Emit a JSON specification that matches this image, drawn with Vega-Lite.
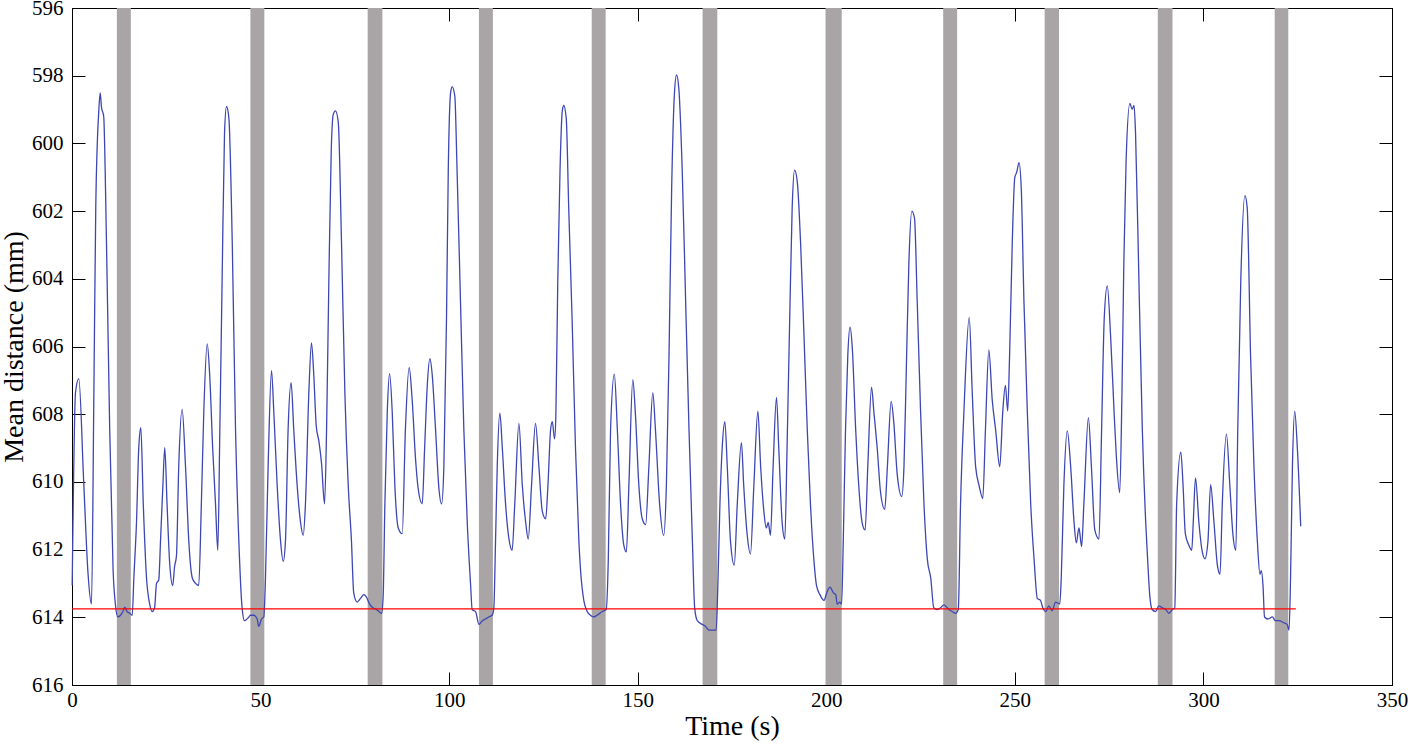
{
  "$schema": "https://vega.github.io/schema/vega-lite/v6.json",
  "width": 1320,
  "height": 677,
  "autosize": {"type": "none"},
  "padding": {"left": 72, "top": 8, "right": 21, "bottom": 59},
  "background": "white",
  "config": {
    "font": "Liberation Serif",
    "view": {"stroke": "black", "strokeWidth": 1},
    "axis": {
      "grid": false,
      "domainColor": "black",
      "tickColor": "black",
      "labelColor": "black",
      "titleColor": "black",
      "labelFont": "Liberation Serif",
      "titleFont": "Liberation Serif",
      "labelFontSize": 21,
      "titleFontSize": 28,
      "titleFontWeight": "normal",
      "labelFlush": false,
      "labelOverlap": false,
      "tickSize": -13,
      "tickWidth": 1
    }
  },
  "datasets": {
    "signal": [
      {"t":0.05,"d":613.06},{"t":0.93,"d":607.36},{"t":1.8,"d":606.95},{"t":3.1,"d":610.0},{"t":4.2,"d":612.62},{"t":5.17,"d":613.61},{"t":5.8,"d":607.36},{"t":6.3,"d":601.89},{"t":7.1,"d":599.04},{"t":7.47,"d":598.51},{"t":7.82,"d":598.93},{"t":8.4,"d":599.2},{"t":9.15,"d":602.98},{"t":10.0,"d":608.46},{"t":10.9,"d":612.62},{"t":11.5,"d":613.61},{"t":12.15,"d":613.99},{"t":12.86,"d":613.94},{"t":13.5,"d":613.83},{"t":14.0,"d":613.7},{"t":14.6,"d":613.83},{"t":15.3,"d":613.88},{"t":15.96,"d":613.94},{"t":16.4,"d":612.84},{"t":17.1,"d":611.2},{"t":17.7,"d":609.0},{"t":18.25,"d":608.4},{"t":18.9,"d":610.65},{"t":19.76,"d":612.84},{"t":20.6,"d":613.61},{"t":21.27,"d":613.83},{"t":21.9,"d":613.72},{"t":22.4,"d":613.0},{"t":23.0,"d":612.9},{"t":23.47,"d":611.75},{"t":24.1,"d":610.1},{"t":24.6,"d":608.99},{"t":25.2,"d":610.65},{"t":25.9,"d":612.4},{"t":26.7,"d":613.06},{"t":27.2,"d":612.5},{"t":27.7,"d":612.18},{"t":28.3,"d":609.55},{"t":29.2,"d":607.86},{"t":30.1,"d":609.55},{"t":30.97,"d":611.75},{"t":31.9,"d":612.84},{"t":32.75,"d":613.0},{"t":33.6,"d":613.06},{"t":34.3,"d":610.65},{"t":34.95,"d":607.91},{"t":35.85,"d":605.92},{"t":36.5,"d":606.82},{"t":37.3,"d":609.0},{"t":38.05,"d":610.65},{"t":38.66,"d":612.02},{"t":39.2,"d":608.46},{"t":39.8,"d":604.08},{"t":40.44,"d":599.7},{"t":40.97,"d":598.91},{"t":41.6,"d":599.26},{"t":42.5,"d":602.98},{"t":43.36,"d":608.46},{"t":44.24,"d":611.75},{"t":45.1,"d":613.72},{"t":45.74,"d":614.1},{"t":46.9,"d":613.99},{"t":47.3,"d":613.94},{"t":48.2,"d":613.94},{"t":49.1,"d":614.05},{"t":49.5,"d":614.27},{"t":50.25,"d":614.05},{"t":50.86,"d":613.99},{"t":51.3,"d":612.84},{"t":52.0,"d":609.55},{"t":52.9,"d":606.71},{"t":53.5,"d":607.91},{"t":54.4,"d":610.1},{"t":55.3,"d":611.75},{"t":56.0,"d":612.35},{"t":56.6,"d":611.75},{"t":57.3,"d":608.46},{"t":58.1,"d":607.07},{"t":58.8,"d":608.46},{"t":59.7,"d":610.1},{"t":60.6,"d":611.2},{"t":61.3,"d":611.58},{"t":61.9,"d":610.65},{"t":62.8,"d":607.36},{"t":63.5,"d":605.89},{"t":64.1,"d":606.82},{"t":64.76,"d":608.35},{"t":65.45,"d":608.79},{"t":66.16,"d":609.45},{"t":66.96,"d":610.65},{"t":67.5,"d":608.46},{"t":68.1,"d":604.08},{"t":68.73,"d":600.25},{"t":69.26,"d":599.15},{"t":69.87,"d":599.04},{"t":70.6,"d":599.37},{"t":71.47,"d":602.98},{"t":72.35,"d":607.36},{"t":73.24,"d":610.1},{"t":74.1,"d":611.75},{"t":74.7,"d":613.28},{"t":75.6,"d":613.55},{"t":76.5,"d":613.44},{"t":77.4,"d":613.33},{"t":78.0,"d":613.39},{"t":78.9,"d":613.61},{"t":79.8,"d":613.72},{"t":80.7,"d":613.77},{"t":81.4,"d":613.83},{"t":82.1,"d":613.88},{"t":82.5,"d":613.39},{"t":82.96,"d":610.65},{"t":83.6,"d":607.91},{"t":84.2,"d":606.8},{"t":84.9,"d":607.91},{"t":85.6,"d":610.1},{"t":86.5,"d":611.36},{"t":87.56,"d":611.53},{"t":88.4,"d":608.46},{"t":89.4,"d":606.62},{"t":90.2,"d":607.58},{"t":91.1,"d":609.34},{"t":91.8,"d":610.21},{"t":92.87,"d":610.65},{"t":93.5,"d":609.0},{"t":94.2,"d":607.15},{"t":94.9,"d":606.36},{"t":95.5,"d":606.82},{"t":96.4,"d":608.46},{"t":97.3,"d":610.21},{"t":98.0,"d":610.65},{"t":98.6,"d":609.55},{"t":99.3,"d":605.17},{"t":99.77,"d":600.79},{"t":100.4,"d":598.49},{"t":100.8,"d":598.33},{"t":101.5,"d":598.6},{"t":102.1,"d":600.79},{"t":103.0,"d":604.63},{"t":103.9,"d":608.46},{"t":104.8,"d":611.2},{"t":105.7,"d":613.06},{"t":106.1,"d":613.77},{"t":107.0,"d":613.83},{"t":107.9,"d":614.21},{"t":108.8,"d":614.1},{"t":109.6,"d":614.05},{"t":110.5,"d":613.99},{"t":111.4,"d":613.94},{"t":111.85,"d":613.72},{"t":112.3,"d":611.75},{"t":112.75,"d":609.55},{"t":113.45,"d":607.97},{"t":114.1,"d":609.0},{"t":114.96,"d":610.65},{"t":115.8,"d":611.64},{"t":116.7,"d":612.02},{"t":117.4,"d":610.65},{"t":118.5,"d":608.27},{"t":119.4,"d":610.1},{"t":120.3,"d":611.2},{"t":120.97,"d":611.69},{"t":121.85,"d":610.1},{"t":122.9,"d":608.27},{"t":123.8,"d":609.55},{"t":124.7,"d":610.87},{"t":125.6,"d":611.09},{"t":126.2,"d":610.1},{"t":126.9,"d":608.46},{"t":127.35,"d":608.22},{"t":127.95,"d":608.73},{"t":128.3,"d":608.02},{"t":128.8,"d":604.08},{"t":129.4,"d":600.79},{"t":130.0,"d":599.04},{"t":130.4,"d":598.88},{"t":131.05,"d":599.26},{"t":131.7,"d":601.89},{"t":132.6,"d":605.17},{"t":133.5,"d":609.0},{"t":134.4,"d":611.75},{"t":135.0,"d":612.84},{"t":135.7,"d":613.5},{"t":136.6,"d":613.83},{"t":137.5,"d":613.94},{"t":138.3,"d":613.99},{"t":139.2,"d":613.94},{"t":140.6,"d":613.83},{"t":141.65,"d":613.77},{"t":142.2,"d":612.29},{"t":142.8,"d":608.46},{"t":143.8,"d":606.82},{"t":144.6,"d":608.46},{"t":145.45,"d":610.65},{"t":146.3,"d":611.86},{"t":147.0,"d":612.07},{"t":147.66,"d":610.1},{"t":148.7,"d":606.98},{"t":149.4,"d":608.02},{"t":150.3,"d":610.1},{"t":151.2,"d":611.09},{"t":152.1,"d":611.26},{"t":152.96,"d":609.55},{"t":154.0,"d":607.36},{"t":154.7,"d":608.46},{"t":155.8,"d":610.65},{"t":156.9,"d":611.58},{"t":157.6,"d":610.1},{"t":158.3,"d":606.27},{"t":159.0,"d":601.34},{"t":159.7,"d":598.6},{"t":160.3,"d":597.98},{"t":160.9,"d":598.38},{"t":161.8,"d":600.79},{"t":162.7,"d":604.63},{"t":163.6,"d":608.46},{"t":164.5,"d":611.75},{"t":165.1,"d":613.72},{"t":165.8,"d":614.1},{"t":167.1,"d":614.21},{"t":168.0,"d":614.27},{"t":168.9,"d":614.38},{"t":169.8,"d":614.38},{"t":170.8,"d":614.38},{"t":171.3,"d":612.84},{"t":171.8,"d":610.65},{"t":172.4,"d":609.0},{"t":173.1,"d":608.22},{"t":173.75,"d":609.55},{"t":174.6,"d":611.75},{"t":175.6,"d":612.46},{"t":176.4,"d":610.65},{"t":177.5,"d":608.84},{"t":178.1,"d":610.1},{"t":179.0,"d":611.53},{"t":179.9,"d":612.13},{"t":180.8,"d":610.1},{"t":181.86,"d":607.91},{"t":182.6,"d":609.55},{"t":183.45,"d":610.87},{"t":184.1,"d":611.36},{"t":184.6,"d":611.2},{"t":185.2,"d":611.58},{"t":185.9,"d":609.55},{"t":186.8,"d":607.5},{"t":187.4,"d":609.0},{"t":188.3,"d":611.2},{"t":189.0,"d":611.69},{"t":189.6,"d":609.0},{"t":190.3,"d":605.17},{"t":190.96,"d":601.89},{"t":191.6,"d":600.79},{"t":192.3,"d":601.12},{"t":193.2,"d":602.98},{"t":194.1,"d":605.72},{"t":194.96,"d":608.46},{"t":195.8,"d":610.65},{"t":196.7,"d":612.29},{"t":197.4,"d":613.06},{"t":198.3,"d":613.33},{"t":199.4,"d":613.5},{"t":200.1,"d":613.28},{"t":201.0,"d":613.11},{"t":201.9,"d":613.28},{"t":202.5,"d":613.33},{"t":202.9,"d":613.61},{"t":203.6,"d":613.55},{"t":204.06,"d":613.61},{"t":204.5,"d":611.75},{"t":205.1,"d":608.46},{"t":205.7,"d":606.27},{"t":206.3,"d":605.43},{"t":206.9,"d":606.05},{"t":207.8,"d":608.46},{"t":208.6,"d":610.1},{"t":209.5,"d":611.2},{"t":210.3,"d":611.42},{"t":211.0,"d":609.55},{"t":212.0,"d":607.2},{"t":212.6,"d":607.91},{"t":213.5,"d":609.0},{"t":214.4,"d":610.32},{"t":215.5,"d":610.81},{"t":216.2,"d":609.55},{"t":217.2,"d":607.62},{"t":217.9,"d":608.24},{"t":218.8,"d":609.77},{"t":220.0,"d":610.43},{"t":220.6,"d":609.55},{"t":221.3,"d":606.27},{"t":221.9,"d":603.53},{"t":222.7,"d":602.0},{"t":223.4,"d":602.22},{"t":224.1,"d":604.63},{"t":225.0,"d":607.91},{"t":225.9,"d":610.65},{"t":226.8,"d":612.29},{"t":227.7,"d":612.84},{"t":228.5,"d":613.72},{"t":229.4,"d":613.77},{"t":230.3,"d":613.72},{"t":231.2,"d":613.63},{"t":232.5,"d":613.77},{"t":233.4,"d":613.83},{"t":234.3,"d":613.88},{"t":235.0,"d":613.77},{"t":235.6,"d":610.65},{"t":236.5,"d":607.91},{"t":237.9,"d":605.14},{"t":238.7,"d":607.36},{"t":239.6,"d":609.55},{"t":240.5,"d":610.1},{"t":241.5,"d":610.49},{"t":242.2,"d":608.46},{"t":243.1,"d":606.1},{"t":244.0,"d":607.58},{"t":244.9,"d":608.46},{"t":246.0,"d":609.55},{"t":246.8,"d":607.91},{"t":247.5,"d":607.15},{"t":248.1,"d":607.91},{"t":248.6,"d":606.27},{"t":249.3,"d":602.98},{"t":249.98,"d":601.01},{"t":250.5,"d":600.85},{"t":251.1,"d":600.57},{"t":251.7,"d":601.34},{"t":252.4,"d":604.63},{"t":253.3,"d":607.91},{"t":254.2,"d":610.65},{"t":255.1,"d":612.29},{"t":255.95,"d":613.44},{"t":256.8,"d":613.5},{"t":257.4,"d":613.72},{"t":258.2,"d":613.83},{"t":259.0,"d":613.66},{"t":259.9,"d":613.8},{"t":260.8,"d":613.55},{"t":261.9,"d":613.61},{"t":262.3,"d":612.84},{"t":263.0,"d":610.1},{"t":263.9,"d":608.49},{"t":264.8,"d":609.55},{"t":265.7,"d":611.2},{"t":266.3,"d":611.8},{"t":267.0,"d":611.36},{"t":267.7,"d":611.91},{"t":268.3,"d":610.65},{"t":269.5,"d":608.1},{"t":270.3,"d":609.55},{"t":271.2,"d":611.42},{"t":272.3,"d":611.69},{"t":273.0,"d":608.46},{"t":273.7,"d":605.17},{"t":274.5,"d":604.21},{"t":275.4,"d":605.72},{"t":276.3,"d":607.91},{"t":276.9,"d":609.23},{"t":277.8,"d":610.32},{"t":278.4,"d":607.36},{"t":278.9,"d":603.5},{"t":279.5,"d":600.5},{"t":280.5,"d":598.82},{"t":281.1,"d":598.99},{"t":281.6,"d":598.88},{"t":282.0,"d":599.7},{"t":282.9,"d":604.08},{"t":283.8,"d":608.46},{"t":284.7,"d":611.2},{"t":285.1,"d":612.07},{"t":285.8,"d":613.39},{"t":286.4,"d":613.77},{"t":287.3,"d":613.83},{"t":288.2,"d":613.66},{"t":289.1,"d":613.72},{"t":290.0,"d":613.77},{"t":290.85,"d":613.88},{"t":291.8,"d":613.77},{"t":292.4,"d":613.72},{"t":292.9,"d":610.65},{"t":294.0,"d":609.12},{"t":294.6,"d":610.1},{"t":295.2,"d":611.53},{"t":296.1,"d":611.86},{"t":296.9,"d":612.02},{"t":297.3,"d":611.2},{"t":297.9,"d":609.88},{"t":298.8,"d":611.2},{"t":299.7,"d":612.07},{"t":300.4,"d":612.27},{"t":301.2,"d":611.75},{"t":301.9,"d":610.08},{"t":302.8,"d":611.2},{"t":303.7,"d":612.46},{"t":304.4,"d":612.73},{"t":305.0,"d":610.65},{"t":306.1,"d":608.59},{"t":307.0,"d":610.1},{"t":307.8,"d":611.53},{"t":308.6,"d":612.02},{"t":309.1,"d":608.46},{"t":309.9,"d":604.08},{"t":311.0,"d":601.54},{"t":311.6,"d":601.89},{"t":312.5,"d":606.27},{"t":313.4,"d":609.55},{"t":314.3,"d":611.75},{"t":315.0,"d":612.73},{"t":315.35,"d":612.62},{"t":315.8,"d":613.06},{"t":316.2,"d":613.99},{"t":317.1,"d":614.05},{"t":318.3,"d":613.99},{"t":319.1,"d":614.1},{"t":320.0,"d":614.1},{"t":321.3,"d":614.16},{"t":322.2,"d":614.21},{"t":322.7,"d":614.38},{"t":323.1,"d":612.84},{"t":323.6,"d":609.55},{"t":324.2,"d":607.91},{"t":324.9,"d":609.0},{"t":325.8,"d":611.31}
    ],
    "bands": [
      {"start":11.9,"end":15.6},{"start":47.3,"end":51.0},{"start":78.4,"end":82.3},{"start":107.9,"end":111.6},{"start":137.8,"end":141.5},{"start":167.2,"end":171.1},{"start":199.8,"end":204.1},{"start":231.0,"end":234.7},{"start":257.9,"end":261.7},{"start":287.9,"end":291.8},{"start":318.9,"end":322.5}
    ],
    "threshold": [
      {"t":0,"d":613.75},{"t":324.5,"d":613.75}
    ]
  },
  "layer": [
    {
      "data": {"name": "bands"},
      "mark": {"type": "rect", "color": "#a9a5a7", "opacity": 1},
      "encoding": {
        "x": {"field": "start", "type": "quantitative", "scale": {"domain": [0, 350], "nice": false, "zero": false}, "axis": null},
        "x2": {"field": "end"}
      }
    },
    {
      "data": {"name": "signal"},
      "mark": {"type": "line", "color": "#3d47b3", "strokeWidth": 1.3, "interpolate": "monotone"},
      "encoding": {
        "x": {"field": "t", "type": "quantitative", "scale": {"domain": [0, 350], "nice": false, "zero": false},
              "axis": {"orient": "bottom", "values": [0,50,100,150,200,250,300,350], "title": "Time (s)", "labelFont": "Liberation Serif", "labelFontSize": 21, "labelPadding": 17, "labelDx": 3, "titlePadding": 2}},
        "y": {"field": "d", "type": "quantitative", "scale": {"domain": [596, 616], "reverse": true, "nice": false, "zero": false},
              "axis": {"orient": "left", "values": [596,598,600,602,604,606,608,610,612,614,616], "title": "Mean distance (mm)", "labelFont": "Liberation Serif", "labelFontSize": 21, "labelPadding": 22, "titlePadding": 3}}
      }
    },
    {
      "data": {"name": "threshold"},
      "mark": {"type": "line", "color": "#ff0000", "strokeWidth": 1.3},
      "encoding": {
        "x": {"field": "t", "type": "quantitative", "scale": {"domain": [0, 350], "nice": false, "zero": false},
              "axis": {"orient": "top", "values": [0,50,100,150,200,250,300,350], "labels": false, "title": null}},
        "y": {"field": "d", "type": "quantitative", "scale": {"domain": [596, 616], "reverse": true, "nice": false, "zero": false},
              "axis": {"orient": "right", "values": [596,598,600,602,604,606,608,610,612,614,616], "labels": false, "title": null}}
      }
    }
  ],
  "resolve": {"axis": {"x": "independent", "y": "independent"}}
}
